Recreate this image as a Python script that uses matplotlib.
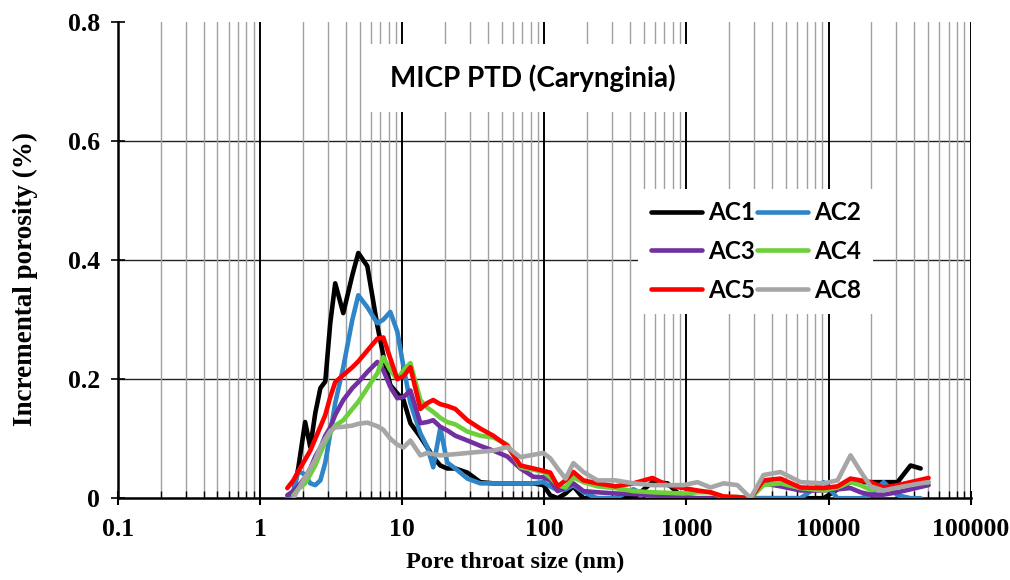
import numpy as np
import matplotlib.pyplot as plt
from matplotlib.ticker import FixedLocator, NullFormatter

nan = np.nan

# pore throat size (nm), common grid
size_nm = [1.55, 1.71, 1.85, 2.07, 2.25, 2.44, 2.65, 2.87, 3.11, 3.37,
           3.84, 4.45, 4.90, 5.67, 6.67, 7.35, 8.23, 9.22, 10.2, 11.4,
           13.4, 15.0, 16.5, 18.5, 20.7, 23.6, 28.7, 35.4, 43.7, 54.9,
           67.8, 83.7, 98.4, 110, 124, 141, 160, 188, 236, 316,
           423, 576, 735, 952, 1195, 1476, 1823, 2285, 2825, 3484,
           4590, 6350, 9230, 11570, 14280, 16800, 19770, 24400, 30600, 37800,
           44500, 50600]

ac1 = [nan, 0.01, 0.05, 0.128, 0.086, 0.143, 0.185, 0.196, 0.294, 0.361,
       0.311, 0.375, 0.412, 0.39, 0.29, 0.24, 0.19, 0.176, 0.165, 0.126,
       0.103, 0.085, 0.069, 0.055, 0.05, 0.05, 0.043, 0.027, 0.025, 0.025,
       0.025, 0.025, 0.022, 0.005, 0.0, 0.008, 0.02, 0.0, 0.0, 0.0,
       0.0, 0.027, 0.025, 0.0, 0.0, 0.0, 0.0, 0.0, 0.0, 0.0,
       0.0, 0.0, 0.0, 0.015, 0.027, 0.027, 0.027, 0.027, 0.027, 0.055,
       0.05, nan]

ac2 = [0.0, 0.01, 0.045, 0.04, 0.025, 0.022, 0.03, 0.06, 0.109, 0.16,
       0.22, 0.3, 0.341, 0.321, 0.294, 0.3, 0.313, 0.28, 0.22, 0.16,
       0.109, 0.086, 0.052, 0.118, 0.06, 0.05, 0.033, 0.025, 0.025, 0.025,
       0.025, 0.025, 0.027, 0.02, 0.013, 0.015, 0.022, 0.01, 0.0, 0.0,
       0.015, 0.0, 0.0, 0.0, 0.0, 0.0, 0.0, 0.0, 0.0, 0.0,
       0.0, 0.0, 0.027, 0.0, 0.0, 0.0, 0.005, 0.027, 0.005, 0.0,
       0.0, nan]

ac3 = [0.005, 0.012, 0.02, 0.035, 0.05, 0.07, 0.085, 0.105, 0.119, 0.14,
       0.165, 0.185, 0.195, 0.212, 0.229, 0.215, 0.187, 0.168, 0.17, 0.181,
       0.126, 0.128, 0.131, 0.12, 0.114, 0.105, 0.097, 0.088, 0.08, 0.07,
       0.05, 0.036, 0.035, 0.03, 0.012, 0.018, 0.025, 0.012, 0.01, 0.008,
       0.007, 0.005, 0.003, 0.002, 0.0, 0.0, 0.0, 0.0, 0.0, 0.025,
       0.02, 0.013, 0.013, 0.015, 0.017, 0.01, 0.006, 0.006, 0.01, 0.015,
       0.019, 0.022]

ac4 = [nan, 0.005, 0.015, 0.025, 0.04, 0.055, 0.076, 0.095, 0.11, 0.122,
       0.131, 0.15, 0.162, 0.185, 0.21, 0.237, 0.215, 0.2, 0.215, 0.227,
       0.165, 0.152, 0.145, 0.135, 0.128, 0.124, 0.112, 0.105, 0.102, 0.09,
       0.052, 0.048, 0.044, 0.035, 0.022, 0.018, 0.035, 0.027, 0.02, 0.017,
       0.012, 0.01, 0.009, 0.008, 0.01, 0.01, 0.002, 0.002, 0.0, 0.022,
       0.025, 0.017, 0.013, 0.018, 0.027, 0.022, 0.014, 0.015, 0.02, 0.024,
       0.026, 0.027]

ac5 = [0.017, 0.03, 0.045, 0.065, 0.08, 0.1, 0.12, 0.14, 0.17, 0.195,
       0.207, 0.22, 0.23, 0.248, 0.268, 0.27, 0.235, 0.2, 0.205, 0.22,
       0.15, 0.16, 0.165, 0.158, 0.155, 0.15, 0.131, 0.117, 0.105, 0.088,
       0.055, 0.05, 0.046, 0.043, 0.02, 0.03, 0.044, 0.03, 0.025, 0.02,
       0.025, 0.034, 0.022, 0.017, 0.013, 0.01, 0.003, 0.002, 0.0, 0.03,
       0.033, 0.018, 0.017, 0.02, 0.033, 0.03, 0.027, 0.018, 0.022, 0.027,
       0.031, 0.034]

ac8 = [nan, 0.0, 0.015, 0.035, 0.05, 0.065, 0.086, 0.1, 0.113, 0.119,
       0.12, 0.122, 0.125, 0.127, 0.121, 0.115, 0.1, 0.09, 0.085, 0.097,
       0.072, 0.076, 0.074, 0.072, 0.073, 0.074, 0.076, 0.078, 0.08, 0.086,
       0.069, 0.073, 0.076, 0.067, 0.05, 0.033, 0.059, 0.044, 0.03, 0.03,
       0.025, 0.022, 0.022, 0.022, 0.027, 0.018, 0.025, 0.022, 0.0, 0.039,
       0.044, 0.027, 0.025, 0.03, 0.072, 0.045, 0.02, 0.013, 0.018, 0.022,
       0.025, 0.027]

series = [("AC1", ac1, "#000000"),
          ("AC2", ac2, "#2E86C8"),
          ("AC3", ac3, "#7030A0"),
          ("AC4", ac4, "#6DD03A"),
          ("AC5", ac5, "#FF0000"),
          ("AC8", ac8, "#A6A6A6")]

x_ticks = [0.1, 1, 10, 100, 1000, 10000, 100000]
x_tick_labels = ["0.1", "1", "10", "100", "1000", "10000", "100000"]
y_ticks = [0, 0.2, 0.4, 0.6, 0.8]
y_tick_labels = ["0", "0.2", "0.4", "0.6", "0.8"]

fig = plt.figure(figsize=(10.1, 5.8), dpi=100)
ax = fig.add_axes([0.117, 0.141, 0.844, 0.821])

ax.set_xscale("log")
ax.set_xlim(0.1, 100000)
ax.set_ylim(0, 0.8)

# gridlines
minor = [m * 10.0 ** e for e in range(-1, 5) for m in range(2, 10)]
ax.xaxis.set_major_locator(FixedLocator(x_ticks))
ax.xaxis.set_minor_locator(FixedLocator(minor))
ax.xaxis.set_minor_formatter(NullFormatter())
ax.grid(which="major", axis="x", color="black", lw=1.4, zorder=0)
ax.grid(which="minor", axis="x", color="#A0A0A0", lw=1.0, zorder=0)
for yv in y_ticks[1:-1]:
    ax.axhline(yv, color="#222222", lw=1.0, zorder=0)

lines = {}
for name, vals, col in series:
    ln, = ax.plot(size_nm, vals, color=col, lw=3.3, label=name,
                  solid_joinstyle="round", solid_capstyle="round", zorder=3)
    lines[name] = ln

ax.set_xticks(x_ticks)
ax.set_xticklabels(x_tick_labels)
ax.set_yticks(y_ticks)
ax.set_yticklabels(y_tick_labels)

for lab in ax.get_xticklabels() + ax.get_yticklabels():
    lab.set_fontfamily("Liberation Serif")
    lab.set_fontweight("bold")
    lab.set_fontsize(18.5)

ax.tick_params(axis="x", which="major", direction="inout", length=10, width=1.5, pad=9)
ax.tick_params(axis="x", which="minor", direction="in", length=5, width=1.0)
ax.tick_params(axis="y", direction="inout", length=10, width=1.2, pad=8)

for s in ["top", "right"]:
    ax.spines[s].set_visible(False)
ax.spines["left"].set_linewidth(1.8)
ax.spines["bottom"].set_linewidth(1.8)

ax.set_xlabel("Pore throat size (nm)", family="Liberation Serif",
              weight="bold", size=17.5)
ax.xaxis.set_label_coords(0.466, -0.112)
ax.set_ylabel("Incremental porosity (%)", family="Liberation Serif",
              weight="bold", size=19.5)
ax.yaxis.set_label_coords(-0.094, 0.46)

ax.text(0.487, 0.882, "MICP PTD (Carynginia)", transform=ax.transAxes,
        ha="center", va="center", family="Lato", weight="bold", size=20,
        zorder=5,
        bbox=dict(boxstyle="square,pad=0.72", fc="white", ec="none"))

order = ["AC1", "AC3", "AC5", "AC2", "AC4", "AC8"]
leg = ax.legend([lines[n] for n in order], order, ncol=2,
                loc="upper left", bbox_to_anchor=(0.596, 0.675),
                frameon=True, fancybox=False, framealpha=1,
                edgecolor="none", facecolor="white",
                prop=dict(family="Lato", weight="bold", size=17.5),
                handlelength=2.1, handletextpad=0.25, columnspacing=0.1,
                labelspacing=0.65, borderpad=0.5)
leg.set_zorder(6)

fig.savefig("out.png", dpi=100)
